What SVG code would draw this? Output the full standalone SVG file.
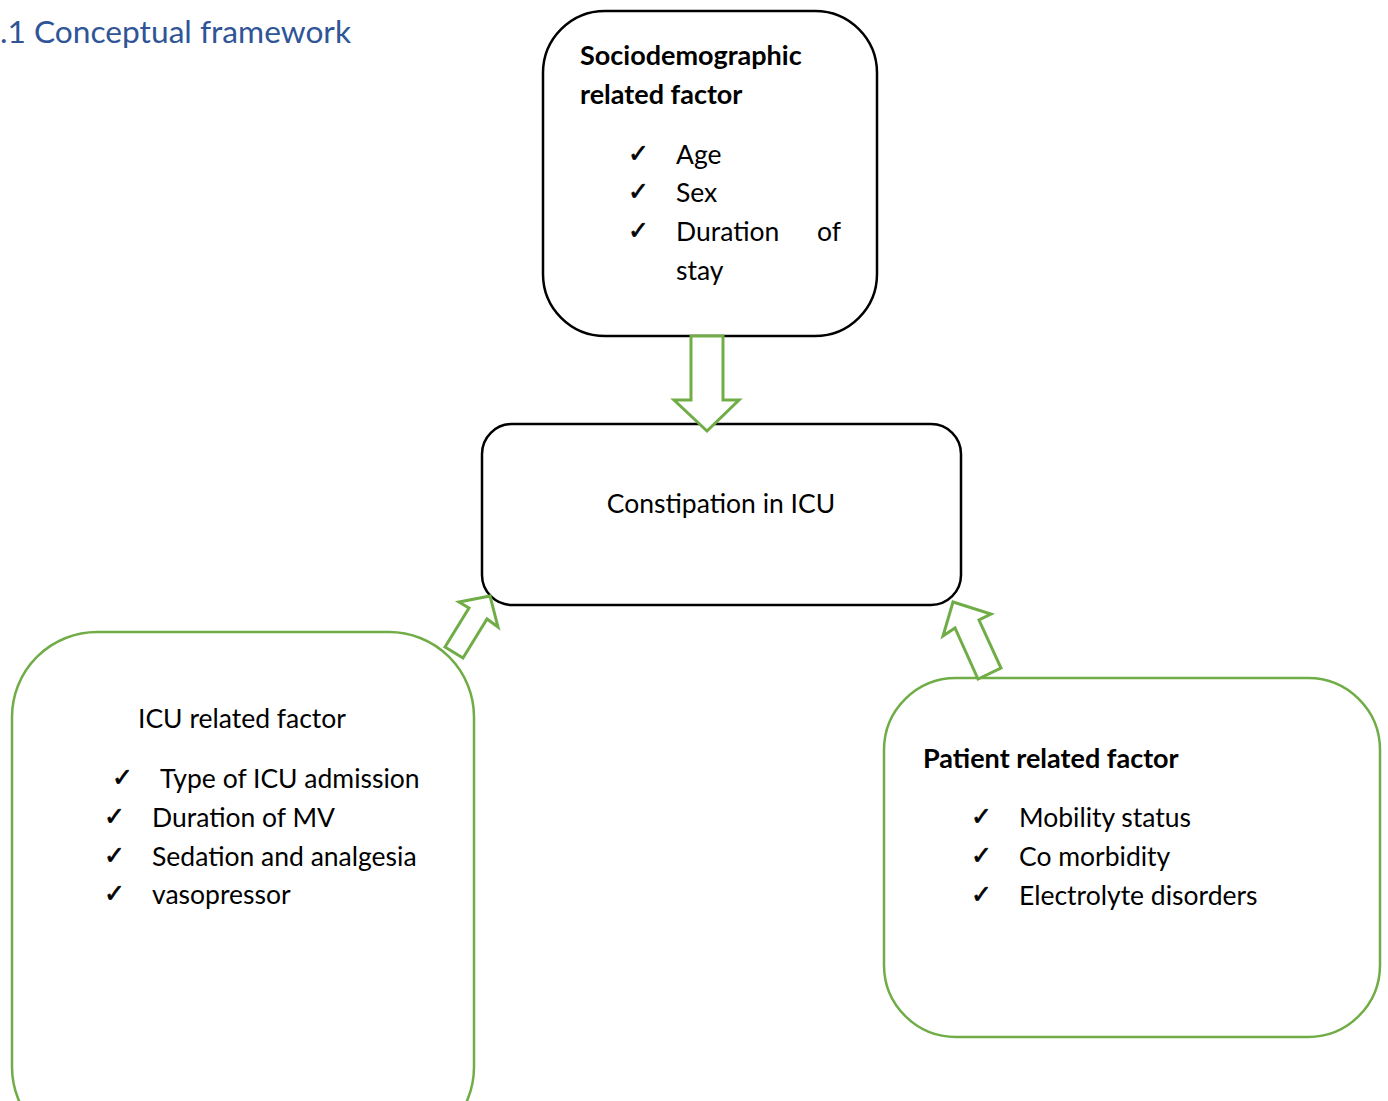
<svg xmlns="http://www.w3.org/2000/svg" width="1388" height="1101" viewBox="0 0 1388 1101">
<style>
.t{font-family:Lato,"Open Sans","Liberation Sans",sans-serif;font-size:26.5px;fill:#000}
.b{font-weight:bold;font-size:27px}
.ck{font-family:"DejaVu Sans",sans-serif;font-size:25px;fill:#000;stroke:#000;stroke-width:0.7}
.bk{fill:#fff;stroke:#000;stroke-width:2.5}
.gr{fill:#fff;stroke:#70AD47;stroke-width:2.5}
.ar{fill:#fff;stroke:#70AD47;stroke-width:3;stroke-linejoin:miter}
</style>
<rect width="1388" height="1101" fill="#fff"/>
<text x="0" y="43" style="font-family:Lato,'Open Sans',sans-serif;font-size:31.7px;fill:#2F5597">.1 Conceptual framework</text>
<g id="socio">
<rect class="bk" x="543" y="11" width="334" height="325" rx="62"/>
<text class="t b" x="580" y="65">Sociodemographic</text>
<text class="t b" x="580" y="104">related factor</text>
<text class="ck" x="628" y="162">✓</text><text class="t" x="676" y="164">Age</text>
<text class="ck" x="628" y="200">✓</text><text class="t" x="676" y="202">Sex</text>
<text class="ck" x="628" y="239">✓</text><text class="t" x="676" y="241">Duration</text><text class="t" x="817" y="241">of</text>
<text class="t" x="676" y="280">stay</text>
</g>
<g id="icu">
<rect class="gr" x="12" y="632" width="462" height="520" rx="85"/>
<text class="t" x="138" y="728">ICU related factor</text>
<text class="ck" x="112" y="786">✓</text><text class="t" x="160" y="788">Type of ICU admission</text>
<text class="ck" x="104" y="825">✓</text><text class="t" x="152" y="827">Duration of MV</text>
<text class="ck" x="104" y="864">✓</text><text class="t" x="152" y="866">Sedation and analgesia</text>
<text class="ck" x="104" y="902">✓</text><text class="t" x="152" y="904">vasopressor</text>
</g>
<g id="patient">
<rect class="gr" x="884" y="678" width="496" height="359" rx="72"/>
<text class="t b" x="923" y="768">Patient related factor</text>
<text class="ck" x="971" y="825">✓</text><text class="t" x="1019" y="827">Mobility status</text>
<text class="ck" x="971" y="864">✓</text><text class="t" x="1019" y="866">Co morbidity</text>
<text class="ck" x="971" y="903">✓</text><text class="t" x="1019" y="905">Electrolyte disorders</text>
</g>
<g id="outcome">
<rect class="bk" x="482" y="424" width="479" height="181" rx="30"/>
<text class="t" x="721" y="513" text-anchor="middle">Constipation in ICU</text>
</g>
<g id="connectors">
<polygon class="ar" points="691,336 723,336 723,400 739,400 707,431 674,400 691,400"/>
<polygon class="ar" points="490,596 459,602 469,608 445,647 463,658 487,619 498,627"/>
<polygon class="ar" points="953,602 943,636 955,628 978,679 1001,668 979,620 991,614"/>
</g>
</svg>
